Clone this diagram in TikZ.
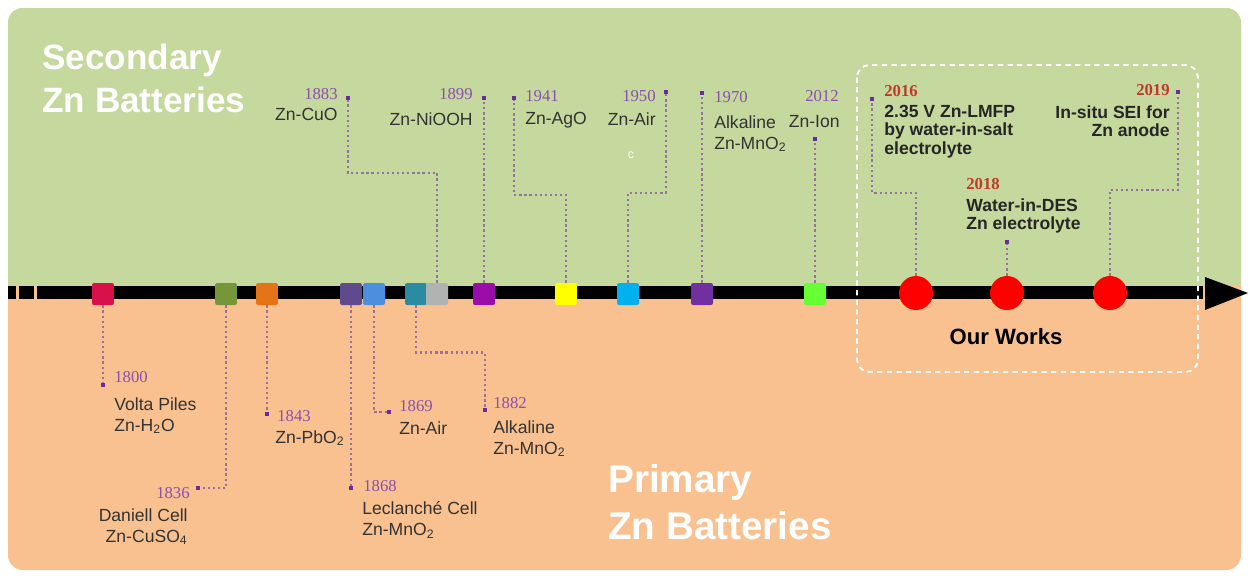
\documentclass[tikz,border=0pt]{standalone}
\usepackage{fontspec}
\setmainfont{Liberation Sans}
\newfontfamily\yearfont{Liberation Serif}
\definecolor{greenbg}{HTML}{C5D89D}
\definecolor{orangebg}{HTML}{F9C18F}
\definecolor{leadc}{HTML}{7D4C9E}
\definecolor{tipc}{HTML}{6A2C9A}
\definecolor{yrc}{HTML}{8A4FB0}
\definecolor{wyrc}{HTML}{C0392B}
\definecolor{lblc}{HTML}{333333}
\definecolor{workred}{HTML}{FF0000}
\definecolor{c1800}{HTML}{D9114A}
\definecolor{c1836}{HTML}{76963A}
\definecolor{c1843}{HTML}{E57317}
\definecolor{c1868}{HTML}{5E4A8C}
\definecolor{c1869}{HTML}{4D8FDF}
\definecolor{c1882}{HTML}{2A8BA3}
\definecolor{c1883}{HTML}{B1B3B3}
\definecolor{c1899}{HTML}{9A0DA8}
\definecolor{c1941}{HTML}{FFFF00}
\definecolor{c1950}{HTML}{00B0EF}
\definecolor{c1970}{HTML}{7030A0}
\definecolor{c2012}{HTML}{66FF33}
\tikzset{
  era/.style={minimum size=0.44cm, inner sep=0pt, rounded corners=1.2pt},
  work/.style={circle, fill=workred, minimum size=0.68cm, inner sep=0pt},
  lead/.style={draw=leadc, line width=1.3pt, dash pattern=on 1.3pt off 1.6pt, draw opacity=0.7},
  tipdot/.style={fill=tipc, inner sep=0pt, minimum size=2pt},
  yr/.style={font=\yearfont\fontsize{9.5}{10}\selectfont, text=yrc, inner sep=0pt},
  wyr/.style={font=\yearfont\bfseries\fontsize{9.5}{10}\selectfont, text=wyrc, inner sep=0pt},
  lbl/.style={font=\fontsize{10}{12}\selectfont, text=lblc, inner sep=0pt, align=left},
  wlbl/.style={font=\bfseries\fontsize{10}{10.4}\selectfont, text=black!85, inner sep=0pt, align=left},
  big/.style={text=white, inner sep=0pt, align=left}
}
\begin{document}
\begin{tikzpicture}[x=0.02cm, y=-0.02cm]
  \useasboundingbox (0,0) rectangle (1249,576);
  \fill[white] (0,0) rectangle (1249,576);
  % background panel
  \fill[orangebg, rounded corners=0.3cm] (8,8) rectangle (1241,570);
  \begin{scope}
    \clip[rounded corners=0.3cm] (8,8) rectangle (1241,570);
    \fill[greenbg] (0,0) rectangle (1249,286);
  \end{scope}
  \node[big, anchor=north west, font=\bfseries\fontsize{20}{24.5}\selectfont] (sec) at (42,44) {Secondary\\Zn Batteries};
  \node[big, anchor=north west, font=\bfseries\fontsize{22}{26.6}\selectfont] (prim) at (608,464) {Primary\\Zn Batteries};
  % timeline
  \fill (8,285.5) rectangle (16,298.5);
  \fill (19,285.5) rectangle (34,298.5);
  \draw[line width=7.4pt] (37,292) -- (1203,292);
  \fill (1205,277) -- (1248,293) -- (1205,310) -- cycle;
  % events
  \foreach \n/\x in {1800/103,1836/226,1843/267,1868/351,1869/374,1882/416,
                     1883/437,1899/484,1941/566,1950/628,1970/702,2012/815}
    {\node[era, fill=c\n] (sq\n) at (\x,294) {};}
  \foreach \n/\x in {2016/916,2018/1007,2019/1110}
    {\node[work] (o\n) at (\x,293) {};}
  \foreach \n/\x/\y in {1883/348/98,1899/484/98,1941/514/98,1950/666/92,1970/702/93,
                        2012/815/139,2016/872/99,2018/1007/242,2019/1178/92,
                        1800/103/385,1836/198/488,1843/267/414,1868/351/488,
                        1869/389/412,1882/485/410}
    {\node[tipdot] (e\n) at (\x,\y) {};}
  % connectors
  \draw[lead] (sq1883.north) -- ++(0,-110) -| (e1883);
  \draw[lead] (sq1899.north) -- (e1899);
  \draw[lead] (sq1941.north) -- ++(0,-88) -| (e1941);
  \draw[lead] (sq1950.north) -- ++(0,-90) -| (e1950);
  \draw[lead] (sq1970.north) -- (e1970);
  \draw[lead] (sq2012.north) -- (e2012);
  \draw[lead] (o2016.north) -- ++(0,-83) -| (e2016);
  \draw[lead] (o2018.north) -- (e2018);
  \draw[lead] (o2019.north) -- ++(0,-86) -| (e2019);
  \draw[lead] (sq1800.south) -- (e1800);
  \draw[lead] (sq1836.south) |- (e1836);
  \draw[lead] (sq1843.south) -- (e1843);
  \draw[lead] (sq1868.south) -- (e1868);
  \draw[lead] (sq1869.south) |- (e1869);
  \draw[lead] (sq1882.south) -- ++(0,47) -| (e1882);
  % labels above
  \node[yr, anchor=east] (y1883) at (338,94) {1883};
  \node[lbl, anchor=north east] (t1883) at (338,108) {Zn-CuO};
  \node[yr, anchor=east] (y1899) at (473,94) {1899};
  \node[lbl, anchor=north east] (t1899) at (473,112) {Zn-NiOOH};
  \node[yr, anchor=west] (y1941) at (525,96) {1941};
  \node[lbl, anchor=north west] (t1941) at (525,112) {Zn-AgO};
  \node[yr, anchor=east] (y1950) at (656,96) {1950};
  \node[lbl, anchor=north east] (t1950) at (656,112) {Zn-Air};
  \node[text=white, font=\fontsize{7}{8}\selectfont, inner sep=0pt] (cmark) at (631,155) {c};
  \node[yr, anchor=west] (y1970) at (714,97) {1970};
  \node[lbl, anchor=north west] (t1970) at (714,115) {Alkaline\\Zn-MnO\textsubscript{2}};
  \node[yr, anchor=east] (y2012) at (839,96) {2012};
  \node[lbl, anchor=north east] (t2012) at (840,115) {Zn-Ion};
  % our works
  \node[wyr, anchor=west] (y2016) at (884,91) {2016};
  \node[wlbl, anchor=north west] (t2016) at (884,105) {2.35 V Zn-LMFP\\by water-in-salt\\electrolyte};
  \node[wyr, anchor=west] (y2018) at (966,184) {2018};
  \node[wlbl, anchor=north west] (t2018) at (966,198) {Water-in-DES\\Zn electrolyte};
  \node[wyr, anchor=east] (y2019) at (1170,90) {2019};
  \node[wlbl, anchor=north east, align=right] (t2019) at (1170,105) {In-situ SEI for\\Zn anode};
  \node[font=\bfseries\fontsize{12.6}{14}\selectfont, inner sep=0pt] (ours) at (1006,337) {Our Works};
  \draw[white, line width=1.1pt, dash pattern=on 3pt off 2.5pt, rounded corners=0.25cm]
    (857,65) rectangle (1198,372);
  % labels below
  \node[yr, anchor=west] (y1800) at (114,377) {1800};
  \node[lbl, anchor=north west] (t1800) at (114,397) {Volta Piles\\Zn-H\textsubscript{2}O};
  \node[yr, anchor=east] (y1836) at (190,493) {1836};
  \node[lbl, anchor=north east, align=right] (t1836) at (188,508) {Daniell Cell\\Zn-CuSO\textsubscript{4}};
  \node[yr, anchor=west] (y1843) at (277,416) {1843};
  \node[lbl, anchor=north west] (t1843) at (275,430) {Zn-PbO\textsubscript{2}};
  \node[yr, anchor=west] (y1868) at (363,486) {1868};
  \node[lbl, anchor=north west] (t1868) at (362,501) {Leclanché Cell\\Zn-MnO\textsubscript{2}};
  \node[yr, anchor=west] (y1869) at (399,406) {1869};
  \node[lbl, anchor=north west] (t1869) at (399,421) {Zn-Air};
  \node[yr, anchor=west] (y1882) at (493,403) {1882};
  \node[lbl, anchor=north west] (t1882) at (493,420) {Alkaline\\Zn-MnO\textsubscript{2}};
\end{tikzpicture}
\end{document}
